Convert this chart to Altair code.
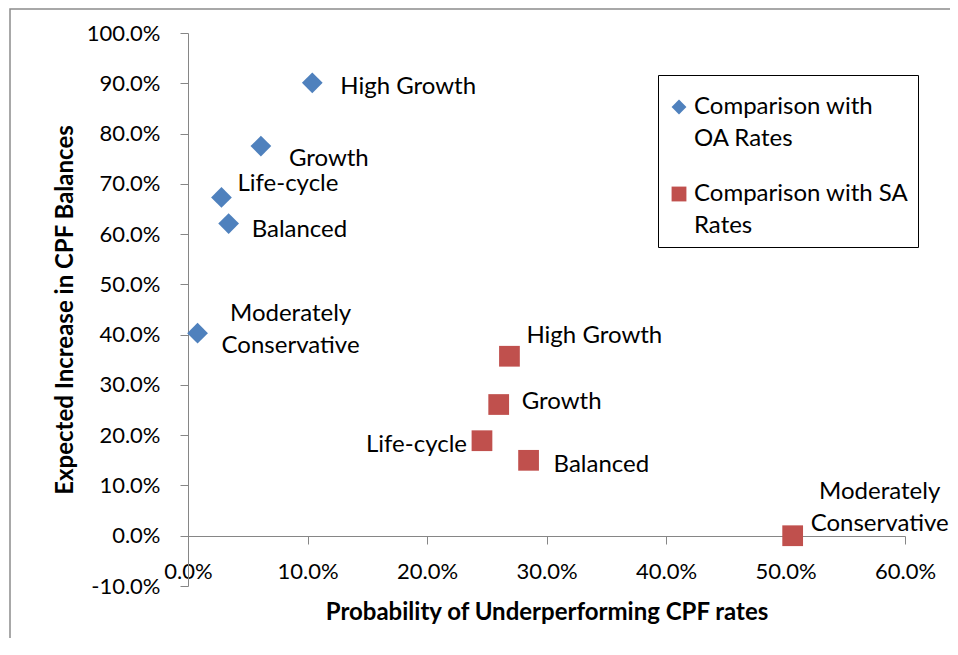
import altair as alt
import pandas as pd

# ---- data ----
strategies = ["High Growth", "Growth", "Life-cycle", "Balanced", "Moderately Conservative"]
series_names = ["Comparison with OA Rates", "Comparison with SA Rates"]
oa_prob = [0.104, 0.061, 0.028, 0.034, 0.008]
oa_incr = [0.901, 0.775, 0.673, 0.621, 0.403]
sa_prob = [0.269, 0.260, 0.246, 0.285, 0.506]
sa_incr = [0.357, 0.261, 0.189, 0.150, 0.000]
x_ticks = [0.0, 0.1, 0.2, 0.3, 0.4, 0.5, 0.6]
y_ticks = [-0.1, 0.0, 0.1, 0.2, 0.3, 0.4, 0.5, 0.6, 0.7, 0.8, 0.9, 1.0]
colors = ["#4F81BD", "#C0504D"]
shapes = ["diamond", "square"]

rows = []
for s, px, py in zip(strategies, oa_prob, oa_incr):
    rows.append({"series": series_names[0], "key": "OA", "strategy": s, "prob": px, "incr": py})
for s, px, py in zip(strategies, sa_prob, sa_incr):
    rows.append({"series": series_names[1], "key": "SA", "strategy": s, "prob": px, "incr": py})
df = pd.DataFrame(rows)

FONT = "Lato"
LBL = 24
MINUS = "\u2212"

# label placement (style only, not data)
placements = {
    ("OA", "High Growth"): dict(dx=28, dy=4, align="left", baseline="middle"),
    ("OA", "Growth"): dict(dx=28, dy=13, align="left", baseline="middle"),
    ("OA", "Life-cycle"): dict(dx=16, dy=-13, align="left", baseline="middle"),
    ("OA", "Balanced"): dict(dx=23, dy=6, align="left", baseline="middle"),
    ("OA", "Moderately Conservative"): dict(dx=93, dy=-31, align="center", baseline="top", lineBreak=" "),
    ("SA", "High Growth"): dict(dx=17, dy=-20, align="left", baseline="middle"),
    ("SA", "Growth"): dict(dx=23, dy=-3, align="left", baseline="middle"),
    ("SA", "Life-cycle"): dict(dx=-15, dy=4, align="right", baseline="middle"),
    ("SA", "Balanced"): dict(dx=25, dy=5, align="left", baseline="middle"),
    ("SA", "Moderately Conservative"): dict(dx=87, dy=-56, align="center", baseline="top", lineBreak=" "),
}

x_enc = alt.X(
    "prob:Q",
    scale=alt.Scale(domain=[0, 0.6], nice=False, zero=False),
    axis=alt.Axis(
        title="Probability of Underperforming CPF rates",
        format=".1%", values=x_ticks, offset=-50, grid=False, labelFlush=False,
        tickSize=8, labelPadding=17, titlePadding=18,
        domainColor="#868686", tickColor="#868686",
    ),
)
y_enc = alt.Y(
    "incr:Q",
    scale=alt.Scale(domain=[-0.1, 1.0], nice=False, zero=False),
    axis=alt.Axis(
        title="Expected Increase in CPF Balances",
        format=".1%", values=y_ticks, grid=False, labelFlush=False,
        labelExpr=f"replace(datum.label, '{MINUS}', '-')",
        tickSize=8, labelPadding=20, titlePadding=9,
        domainColor="#868686", tickColor="#868686",
    ),
)

frame = alt.Chart(pd.DataFrame({"a": [0]})).mark_rect(
    fillOpacity=0, stroke="#8c8c8c", strokeWidth=1.5
).encode(x=alt.value(-178), x2=alt.value(900), y=alt.value(-24), y2=alt.value(800))

points = alt.Chart(df).mark_point(filled=True, size=430, opacity=1).encode(
    x=x_enc,
    y=y_enc,
    color=alt.Color(
        "series:N",
        scale=alt.Scale(domain=series_names, range=colors),
        legend=alt.Legend(
            title=" ", titleFontSize=1, titlePadding=10,
            orient="none", legendX=470, legendY=42,
            strokeColor="black", fillColor="white", padding=9,
            labelFont=FONT, labelFontSize=LBL, labelColor="black", labelLimit=400,
            symbolSize=220, symbolStrokeWidth=0, labelBaseline="middle",
            labelOffset=3, rowPadding=31, cornerRadius=0,
            labelExpr="datum.label == 'Comparison with OA Rates' ? ['Comparison with', 'OA Rates'] : ['Comparison with SA', 'Rates']",
        ),
    ),
    shape=alt.Shape("series:N", scale=alt.Scale(domain=series_names, range=shapes)),
)

layers = [frame, points]
for (key, strat), p in placements.items():
    layers.append(
        alt.Chart(df)
        .transform_filter((alt.datum.key == key) & (alt.datum.strategy == strat))
        .mark_text(font=FONT, fontSize=LBL, color="black", lineHeight=32, **p)
        .encode(x=x_enc, y=y_enc, text="strategy:N")
    )

chart = (
    alt.layer(*layers)
    .properties(
        width=717, height=553,
        padding={"left": 180, "top": 25, "right": 45, "bottom": 52},
        autosize=alt.AutoSizeParams(type="none"),
    )
    .configure(style={"guide-label": {"lineHeight": 32}})
    .configure_view(stroke=None)
    .configure_axis(
        labelFont=FONT, labelFontSize=22, labelColor="black",
        titleFont=FONT, titleFontSize=24, titleFontWeight="bold", titleColor="black",
    )
)

chart.save("out.html", embed_options={"renderer": "svg", "actions": False})
